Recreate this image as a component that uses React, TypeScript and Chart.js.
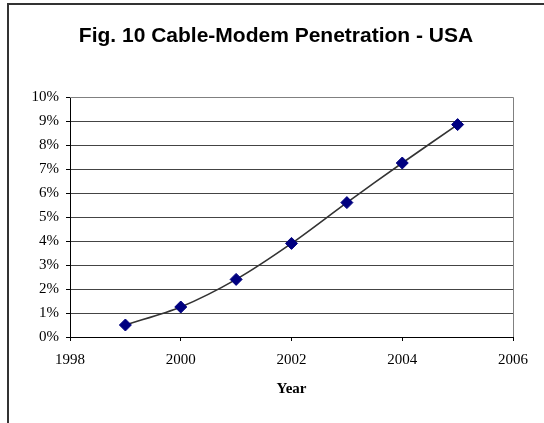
import React, { useEffect, useRef } from "react";
import { Chart, registerables } from "chart.js";

Chart.register(...registerables);

const years: number[] = [1999, 2000, 2001, 2002, 2003, 2004, 2005];
const penetration: number[] = [0.5, 1.25, 2.4, 3.9, 5.6, 7.25, 8.85];
const titleText = "Fig. 10 Cable-Modem Penetration - USA";
const xAxisTitle = "Year";
const yMin = 0;
const yMax = 10;
const yStep = 1;
const xMin = 1998;
const xMax = 2006;
const xStep = 2;

const W = 544;
const H = 423;
const AREA_LEFT = 70;
const AREA_RIGHT = 513;
const AREA_TOP = 97;
const AREA_BOTTOM = 337;

const framePlugin = {
  id: "frameAndTitle",
  beforeDraw(chart: any) {
    const ctx = chart.ctx;
    ctx.save();
    ctx.fillStyle = "#ffffff";
    ctx.fillRect(0, 0, chart.width, chart.height);
    ctx.strokeStyle = "#333333";
    ctx.lineWidth = 2;
    ctx.beginPath();
    ctx.moveTo(8, chart.height);
    ctx.lineTo(8, 4);
    ctx.lineTo(chart.width, 4);
    ctx.stroke();
    ctx.fillStyle = "#000000";
    ctx.font = "bold 21px 'Liberation Sans', Arial, sans-serif";
    ctx.textAlign = "center";
    ctx.textBaseline = "alphabetic";
    ctx.fillText(titleText, 276, 42);
    ctx.restore();
  },
  beforeDatasetsDraw(chart: any) {
    const { ctx, chartArea } = chart;
    ctx.save();
    ctx.strokeStyle = "#808080";
    ctx.lineWidth = 1;
    ctx.beginPath();
    ctx.moveTo(chartArea.left, chartArea.top + 0.5);
    ctx.lineTo(chartArea.right + 0.5, chartArea.top + 0.5);
    ctx.lineTo(chartArea.right + 0.5, chartArea.bottom);
    ctx.stroke();
    ctx.restore();
  },
};

export default function App() {
  const ref = useRef<HTMLCanvasElement | null>(null);
  useEffect(() => {
    if (!ref.current) return;
    const chart = new Chart(ref.current, {
      type: "line",
      data: {
        datasets: [
          {
            data: years.map((y, i) => ({ x: y, y: penetration[i] })),
            borderColor: "#333333",
            borderWidth: 1.6,
            tension: 0.3,
            pointStyle: "rectRot",
            pointRadius: 6,
            pointBorderWidth: 1,
            pointBackgroundColor: "#000080",
            pointBorderColor: "#000080",
            fill: false,
          },
        ],
      },
      options: {
        animation: false,
        responsive: false,
        devicePixelRatio: 1,
        layout: {
          padding: { left: 0, top: AREA_TOP, right: W - AREA_RIGHT, bottom: 0 },
        },
        plugins: {
          legend: { display: false },
          tooltip: { enabled: false },
          title: { display: false },
        },
        scales: {
          x: {
            type: "linear",
            min: xMin,
            max: xMax,
            afterFit(scale: any) {
              scale.height = H - AREA_BOTTOM;
            },
            ticks: {
              stepSize: xStep,
              padding: 10,
              color: "#000000",
              font: { family: "'Liberation Serif', 'Times New Roman', serif", size: 15 },
              callback: (v: any) => String(v),
            },
            grid: {
              drawOnChartArea: false,
              drawTicks: true,
              tickLength: 4,
              tickColor: "#000000",
            },
            border: { color: "#000000", width: 1 },
            title: {
              display: true,
              text: xAxisTitle,
              color: "#000000",
              font: { family: "'Liberation Serif', 'Times New Roman', serif", size: 15, weight: "bold" },
              padding: { top: 0, bottom: 25 },
            },
          },
          y: {
            type: "linear",
            min: yMin,
            max: yMax,
            afterFit(scale: any) {
              scale.width = AREA_LEFT;
            },
            ticks: {
              stepSize: yStep,
              padding: 7,
              color: "#000000",
              font: { family: "'Liberation Serif', 'Times New Roman', serif", size: 15 },
              callback: (v: any) => v + "%",
            },
            grid: {
              color: (c: any) => (c.tick && c.tick.value === yMax ? "#808080" : "#444444"),
              lineWidth: 1,
              tickLength: 4,
              tickColor: "#000000",
            },
            border: { color: "#000000", width: 1 },
          },
        },
      },
      plugins: [framePlugin],
    });
    return () => chart.destroy();
  }, []);
  return (
    <div style={{ position: "fixed", left: 0, top: 0, width: W, height: H }}>
      <canvas ref={ref} width={W} height={H} style={{ width: W, height: H, display: "block" }} />
    </div>
  );
}
